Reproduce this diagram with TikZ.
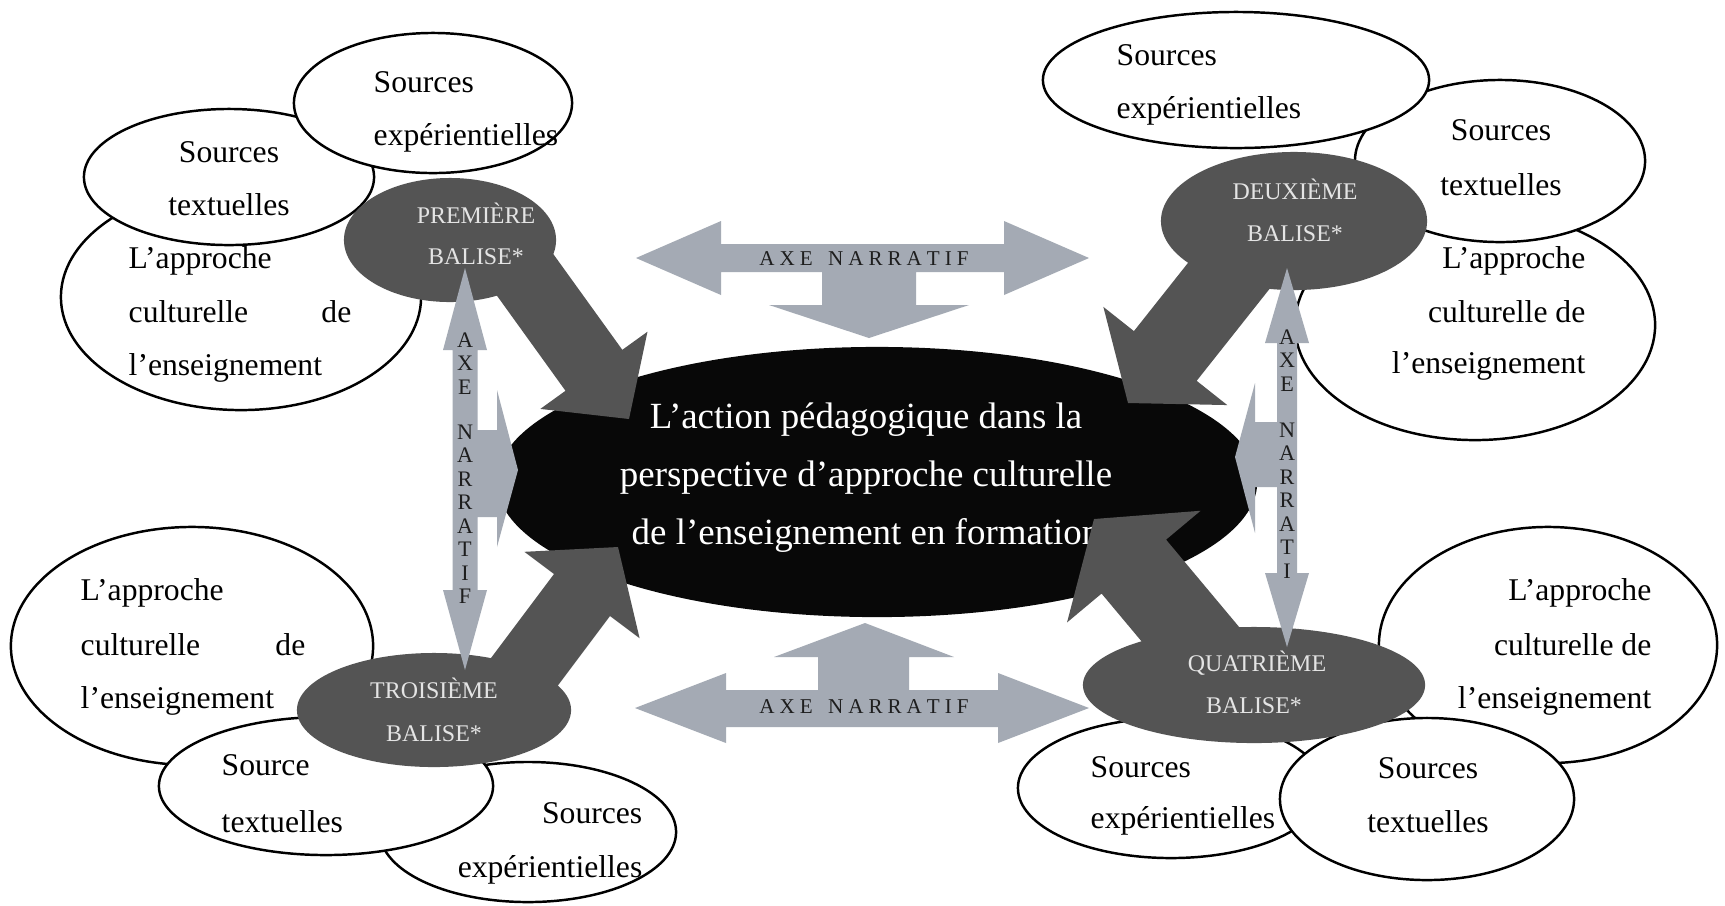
\documentclass[tikz,border=0pt]{standalone}
\usepackage{fontspec}
\setmainfont{Liberation Serif}
\usetikzlibrary{shapes.geometric,calc}

\definecolor{balise}{RGB}{84,84,84}
\definecolor{axe}{RGB}{164,170,180}
\definecolor{axeink}{RGB}{30,30,30}
\definecolor{core}{RGB}{8,8,8}
\definecolor{balisetxt}{RGB}{228,228,228}

% tracking between the capitals of the horizontal axis labels
\newcommand\tk{\kern0.05cm}

% wide dark arrow from a base coordinate to a tip coordinate
% #1 base, #2 tip, #3 half shaft width, #4 half head width, #5 head length
\newcommand\blockarrow[5]{%
  \coordinate (#1-h) at ($(#2)!#5!(#1)$);
  \fill[balise] ($(#1)!#3!90:(#2)$) -- ($(#1-h)!#3!90:(#2)$) -- ($(#1-h)!#4!90:(#2)$)
    -- (#2) -- ($(#1-h)!#4!-90:(#2)$) -- ($(#1-h)!#3!-90:(#2)$) -- ($(#1)!#3!-90:(#2)$) -- cycle;
}

\begin{document}
\begin{tikzpicture}[x=0.01cm, y=-0.01cm,
  wbub/.style={ellipse, draw=black, line width=0.7pt, fill=white, inner sep=0},
  lbl/.style={font=\fontsize{9}{11}\selectfont, inner sep=0},
  bal/.style={ellipse, fill=balise, inner sep=0},
  baltxt/.style={font=\fontsize{6.8}{8}\selectfont, text=balisetxt, inner sep=0, anchor=base},
  axetxt/.style={font=\fontsize{6}{7}\selectfont, text=axeink, inner sep=0, anchor=base},
  vaxe/.style={font=\fontsize{6.3}{6.7}\selectfont, align=center, text=axeink, inner sep=0, anchor=north},
  coretxt/.style={font=\fontsize{10.5}{12}\selectfont, text=white, inner sep=0, anchor=base}]

\useasboundingbox[fill=white] (0,0) rectangle (1725,905);

% ---------- top-left cluster ----------
\node[wbub, minimum width=3.60cm, minimum height=2.26cm] (tlA) at (241,297) {};
\node[lbl, anchor=base west] (tlA1) at (128,268) {L’approche};
\node[lbl, anchor=base west] (tlA2) at (128,322) {culturelle};
\node[lbl, anchor=base east] (tlA3) at (352,322) {de};
\node[lbl, anchor=base west] (tlA4) at (128,375) {l’enseignement};
\node[wbub, minimum width=2.90cm, minimum height=1.36cm] (tlT) at (229,177) {};
\node[lbl, anchor=base] (tlT1) at (229,162) {Sources};
\node[lbl, anchor=base] (tlT2) at (229,215) {textuelles};
\node[wbub, minimum width=2.78cm, minimum height=1.40cm] (tlE) at (433,103) {};
\node[lbl, anchor=base west] (tlE1) at (373,92) {Sources};
\node[lbl, anchor=base west] (tlE2) at (373,145) {expérientielles};

% ---------- top-right cluster ----------
\node[wbub, minimum width=3.60cm, minimum height=2.30cm] (trA) at (1475,325) {};
\node[lbl, anchor=base east] (trA1) at (1586,268) {L’approche};
\node[lbl, anchor=base east] (trA2) at (1586,322) {culturelle de};
\node[lbl, anchor=base east] (trA3) at (1586,373) {l’enseignement};
\node[wbub, minimum width=2.90cm, minimum height=1.62cm] (trT) at (1500,161) {};
\node[lbl, anchor=base] (trT1) at (1501,140) {Sources};
\node[lbl, anchor=base] (trT2) at (1501,195) {textuelles};
\node[wbub, minimum width=3.86cm, minimum height=1.36cm] (trE) at (1236,80) {};
\node[lbl, anchor=base west] (trE1) at (1116,65) {Sources};
\node[lbl, anchor=base west] (trE2) at (1116,118) {expérientielles};

% ---------- bottom-left cluster ----------
\node[wbub, minimum width=3.62cm, minimum height=2.38cm] (blA) at (192,646) {};
\node[lbl, anchor=base west] (blA1) at (80,600) {L’approche};
\node[lbl, anchor=base west] (blA2) at (80,655) {culturelle};
\node[lbl, anchor=base east] (blA3) at (306,655) {de};
\node[lbl, anchor=base west] (blA4) at (80,708) {l’enseignement};
\node[wbub, minimum width=2.96cm, minimum height=1.40cm] (blE) at (528,832) {};
\node[lbl, anchor=base east] (blE1) at (643,823) {Sources};
\node[lbl, anchor=base east] (blE2) at (643,877) {expérientielles};
\node[wbub, minimum width=3.34cm, minimum height=1.38cm] (blT) at (326,786) {};
\node[lbl, anchor=base west] (blT1) at (221,775) {Source};
\node[lbl, anchor=base west] (blT2) at (221,832) {textuelles};

% ---------- bottom-right cluster ----------
\node[wbub, minimum width=3.38cm, minimum height=2.36cm] (brA) at (1548,645) {};
\node[lbl, anchor=base east] (brA1) at (1652,600) {L’approche};
\node[lbl, anchor=base east] (brA2) at (1652,655) {culturelle de};
\node[lbl, anchor=base east] (brA3) at (1652,708) {l’enseignement};
\node[wbub, minimum width=3.06cm, minimum height=1.40cm] (brE) at (1171,788) {};
\node[lbl, anchor=base west] (brE1) at (1090,777) {Sources};
\node[lbl, anchor=base west] (brE2) at (1090,828) {expérientielles};
\node[wbub, minimum width=2.94cm, minimum height=1.62cm] (brT) at (1427,799) {};
\node[lbl, anchor=base] (brT1) at (1428,778) {Sources};
\node[lbl, anchor=base] (brT2) at (1428,832) {textuelles};

% ---------- central ellipse ----------
\node[ellipse, fill=core, minimum width=7.60cm, minimum height=2.70cm, inner sep=0] (core) at (877,482) {};
\node[coretxt] (c1) at (866,428) {L’action pédagogique dans la};
\node[coretxt] (c2) at (866,486) {perspective d’approche culturelle};
\node[coretxt] (c3) at (866,544) {de l’enseignement en formation};

% ---------- dark arrows from the four beacons ----------
\coordinate (b1s) at (500,240);  \coordinate (b1t) at (629,419);
\coordinate (b2s) at (1277,215); \coordinate (b2t) at (1128,403);
\coordinate (b3s) at (507,695);  \coordinate (b3t) at (618,547);
\coordinate (b4s) at (1232,684); \coordinate (b4t) at (1094,519);
\blockarrow{b1s}{b1t}{0.35cm}{0.66cm}{0.6cm}
\blockarrow{b2s}{b2t}{0.40cm}{0.79cm}{0.6cm}
\blockarrow{b3s}{b3t}{0.35cm}{0.72cm}{0.6cm}
\blockarrow{b4s}{b4t}{0.42cm}{0.87cm}{0.62cm}

% ---------- beacons ----------
\node[bal, minimum width=2.12cm, minimum height=1.24cm] (bal1) at (450,240) {};
\node[bal, minimum width=2.66cm, minimum height=1.38cm] (bal2) at (1294,221) {};
\node[bal, minimum width=2.74cm, minimum height=1.14cm] (bal3) at (434,710) {};
\node[bal, minimum width=3.42cm, minimum height=1.16cm] (bal4) at (1254,685) {};

% ---------- narrative axes ----------
% top: horizontal double arrow with a branch down to the centre
\fill[axe] (636,258) -- (721,221) -- (721,244) -- (1004,244) -- (1004,221) -- (1089,258)
  -- (1004,295) -- (1004,272) -- (916,272) -- (916,305) -- (969,305) -- (869,338)
  -- (769,305) -- (822,305) -- (822,272) -- (721,272) -- (721,295) -- cycle;
% bottom: horizontal double arrow with a branch up to the centre
\fill[axe] (635,708) -- (726,673) -- (726,690) -- (818,690) -- (818,657) -- (774,657)
  -- (865,623) -- (954,657) -- (909,657) -- (909,690) -- (998,690) -- (998,673)
  -- (1089,708) -- (998,743) -- (998,727) -- (726,727) -- (726,743) -- cycle;
% left: vertical double arrow with a branch to the right
\fill[axe] (465,268) -- (487,350) -- (477.5,350) -- (477.5,430) -- (497,430) -- (497,390)
  -- (518,470) -- (497,547) -- (497,517) -- (477.5,517) -- (477.5,590) -- (487,590)
  -- (465,670) -- (443,590) -- (452.5,590) -- (452.5,350) -- (443,350) -- cycle;
% right: vertical double arrow with a branch to the left
\fill[axe] (1287,268) -- (1309,343) -- (1297,343) -- (1297,573) -- (1309,573) -- (1287,647)
  -- (1265,573) -- (1277,573) -- (1277,487) -- (1255,487) -- (1255,533) -- (1235,457)
  -- (1255,383) -- (1255,422) -- (1277,422) -- (1277,343) -- (1265,343) -- cycle;

% ---------- beacon labels ----------
\node[baltxt] (bal1a) at (476,223) {PREMIÈRE};
\node[baltxt] (bal1b) at (476,264) {BALISE*};
\node[baltxt] (bal2a) at (1295,199) {DEUXIÈME};
\node[baltxt] (bal2b) at (1295,241) {BALISE*};
\node[baltxt] (bal3a) at (434,698) {TROISIÈME};
\node[baltxt] (bal3b) at (434,741) {BALISE*};
\node[baltxt] (bal4a) at (1257,671) {QUATRIÈME};
\node[baltxt] (bal4b) at (1254,713) {BALISE*};

% ---------- axis labels ----------
\node[axetxt] (axT) at (864,265) {A\tk X\tk E\tk\ \tk N\tk A\tk R\tk R\tk A\tk T\tk I\tk F};
\node[axetxt] (axB) at (864,713) {A\tk X\tk E\tk\ \tk N\tk A\tk R\tk R\tk A\tk T\tk I\tk F};
\node[vaxe] (axL) at (465,332) {A\\X\\E\\[0.21cm]N\\A\\R\\R\\A\\T\\I\\F};
\node[vaxe] (axR) at (1287,329) {A\\X\\E\\[0.22cm]N\\A\\R\\R\\A\\T\\I};

\end{tikzpicture}
\end{document}
